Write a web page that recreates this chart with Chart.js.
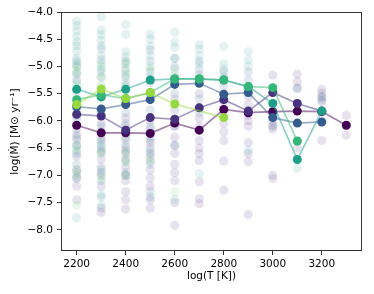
<!DOCTYPE html>
<html>
<head>
<meta charset="utf-8">
<script src="https://cdn.jsdelivr.net/npm/chart.js@4/dist/chart.umd.min.js"></script>
<style>
  html, body { margin: 0; padding: 0; background: #fff; }
  #wrap { width: 374px; height: 294px; }
</style>
</head>
<body>
<div id="wrap"><canvas id="mdot"></canvas></div>
<script>
// temperatures (K) on the x axis
const temps = [2200, 2300, 2400, 2500, 2600, 2700, 2800, 2900, 3000, 3100, 3200, 3300];
const xTicks = [2200, 2400, 2600, 2800, 3000, 3200];
const yTicks = [-4.0, -4.5, -5.0, -5.5, -6.0, -6.5, -7.0, -7.5, -8.0];

// median tracks, log(Mdot) per temperature (null = no point)
const trackDark   = [-6.08, -6.22, -6.22, -6.23, -6.04, -6.17, -5.79, -5.85, -5.83, -5.82, -5.83, -6.08];
const trackIndigo = [-5.88, -5.91, -6.17, -5.94, -5.97, -5.76, -5.61, -5.82, -5.48, -5.68, -5.82, null];
const trackBlue   = [-5.74, -5.78, -5.70, -5.61, -5.33, -5.31, -5.51, -5.48, -5.94, -6.04, -6.02, null];
const trackTeal   = [-5.42, -5.56, -5.42, -5.25, -5.23, -5.23, -5.25, -5.37, -5.68, -6.71, -5.82, null];
const trackGreen  = [-5.61, -5.52, -5.59, -5.48, -5.23, -5.23, -5.25, -5.37, -5.39, -6.37, null, null];
const trackLime   = [-5.70, -5.415, -5.59, -5.48, -5.69, null, -5.94, null, null, null, null, null];

// individual models behind the tracks, grouped by colour: [T, [log Mdot ...]]
const cloudTeal = [
  [2200, [-4.17, -4.25, -4.35, -4.45, -4.55, -4.62, -4.72, -4.85, -4.95, -5.1, -5.3, -5.45, -5.6, -6.45, -6.55, -7.78]],
  [2300, [-4.09, -4.33, -4.42, -4.52, -4.62, -4.8, -4.95, -5.1, -5.35, -6.4, -6.5, -6.9, -7.35, -7.55]],
  [2400, [-4.23, -4.41, -4.73, -4.82, -4.95, -5.15, -5.3, -6.5, -6.75, -7.0]],
  [2500, [-4.41, -4.5, -4.63, -4.8, -5.0, -5.2, -6.3, -6.55, -6.8]],
  [2600, [-4.37, -4.55, -4.65, -4.85, -5.05, -5.3, -7.44]],
  [2700, [-4.6, -4.68, -4.8, -4.95, -6.97]],
  [2800, [-4.63, -4.95, -5.05]],
  [2900, [-4.73, -4.88, -5.0, -6.54]],
  [3100, [-6.87]]
];
const cloudBlue = [
  [2200, [-4.9, -5.0, -5.15, -5.25, -5.8, -5.95, -6.25, -6.35, -6.6, -6.8, -6.95, -7.05]],
  [2300, [-4.68, -4.88, -5.05, -5.2, -5.55, -5.85, -6.1, -6.3, -6.45, -6.58, -6.95, -7.1, -7.4]],
  [2400, [-4.9, -5.05, -5.2, -5.35, -5.85, -6.05, -6.35, -6.6, -6.95]],
  [2500, [-4.7, -4.9, -5.1, -5.3, -5.8, -6.1, -6.35, -6.65, -7.3, -7.4]],
  [2600, [-4.85, -5.0, -5.2, -5.5, -6.1, -6.45]],
  [2700, [-4.9, -5.05, -5.15, -5.6, -5.85]],
  [2800, [-5.1, -5.2, -5.35]],
  [2900, [-5.1, -5.25, -5.45]],
  [3000, [-5.9, -6.1]],
  [3100, [-5.4]],
  [3200, [-5.56, -5.62]]
];
const cloudPurple = [
  [2200, [-5.9, -6.15, -6.3, -6.45, -6.65, -6.9, -7.05, -7.2, -7.45]],
  [2300, [-5.8, -6.05, -6.2, -6.35, -6.55, -6.7, -6.85, -7.0, -7.2, -7.6, -7.68]],
  [2400, [-5.95, -6.1, -6.3, -6.45, -6.55, -6.7, -6.85, -7.0, -7.1, -7.3, -7.45, -7.62]],
  [2500, [-6.0, -6.15, -6.4, -6.5, -6.6, -6.75, -6.9, -7.05, -7.2, -7.45, -7.6]],
  [2600, [-5.6, -5.8, -6.1, -6.3, -6.45, -6.6, -6.8, -6.95, -7.1, -7.5, -7.92]],
  [2700, [-5.5, -5.75, -5.95, -6.1, -6.36, -6.5, -6.6, -6.73, -7.12, -7.43, -7.52]],
  [2800, [-5.5, -5.65, -5.9, -6.05, -6.2, -6.36, -6.74, -7.27]],
  [2900, [-5.4, -5.55, -5.7, -5.9, -6.0, -6.1, -6.4, -6.6, -6.75, -7.72]],
  [3000, [-5.16, -6.0, -6.08, -6.15, -7.0, -7.06]],
  [3100, [-5.14, -5.28, -5.4, -6.38, -6.5]],
  [3200, [-5.42, -5.49, -5.56, -5.65, -6.36]],
  [3300, [-5.9, -6.26]]
];
const cloudGreen = [
  [2200, [-5.0, -5.1, -5.35, -5.7, -6.5, -6.9, -7.0, -7.55]],
  [2300, [-5.0, -5.2, -5.6, -6.6, -7.05]],
  [2400, [-4.95, -5.1, -5.4, -6.6, -6.75, -7.0]],
  [2500, [-5.05, -5.25, -5.5, -6.7]],
  [2600, [-5.15, -5.3, -7.3]],
  [2700, [-5.2]]
];

function cloudPoints(groups) {
  const pts = [];
  groups.forEach(([t, vals]) => vals.forEach(v => pts.push({ x: t, y: v })));
  return pts;
}
function trackPoints(vals) {
  return temps.map((t, i) => ({ x: t, y: vals[i] }));
}
function hexA(hex, a) {
  const n = parseInt(hex.slice(1), 16);
  return `rgba(${n >> 16},${(n >> 8) & 255},${n & 255},${a})`;
}

const clouds = [
  { pts: cloudPurple, col: '#482878', a: 0.13 },
  { pts: cloudBlue,   col: '#31688e', a: 0.14 },
  { pts: cloudTeal,   col: '#21918c', a: 0.12 },
  { pts: cloudGreen,  col: '#5ec962', a: 0.13 }
];
const tracks = [
  { vals: trackDark,   col: '#440154' },
  { vals: trackIndigo, col: '#46327e' },
  { vals: trackBlue,   col: '#365c8d' },
  { vals: trackTeal,   col: '#1f9e89' },
  { vals: trackGreen,  col: '#35b779' },
  { vals: trackLime,   col: '#95d840' }
];

const datasets = [];
clouds.forEach((c, i) => datasets.push({
  type: 'scatter', data: cloudPoints(c.pts), order: 100 - i,
  pointRadius: 4.6, pointBorderWidth: 0, backgroundColor: hexA(c.col, c.a)
}));
tracks.forEach((tr, i) => datasets.push({
  type: 'line', data: trackPoints(tr.vals), order: 50 - i, spanGaps: true,
  borderColor: hexA(tr.col, 0.5), borderWidth: 1.7, tension: 0,
  pointRadius: 4.5, pointBorderWidth: 0, pointBackgroundColor: tr.col
}));

const frame = {
  id: 'frame',
  afterDraw(chart) {
    const { ctx, chartArea: a } = chart;
    ctx.save();
    ctx.strokeStyle = '#333';
    ctx.lineWidth = 1;
    ctx.strokeRect(Math.round(a.left) + 0.5, Math.round(a.top) + 0.5,
      Math.round(a.right - a.left) - 1, Math.round(a.bottom - a.top) - 1);
    ctx.restore();
  }
};

const font = { family: 'DejaVu Sans', size: 10.5 };
new Chart(document.getElementById('mdot'), {
  data: { datasets },
  options: {
    responsive: true, maintainAspectRatio: false, animation: false,
    layout: { padding: { top: 12, right: 12, left: 0, bottom: 0 } },
    plugins: { legend: { display: false }, tooltip: { enabled: false } },
    scales: {
      x: {
        type: 'linear', min: 2136, max: 3364,
        afterBuildTicks: s => { s.ticks = xTicks.map(v => ({ value: v })); },
        afterFit: s => { s.height = 43; },
        ticks: { font, color: '#000', padding: 3, maxRotation: 0, callback: v => String(v) },
        grid: { drawOnChartArea: false, tickLength: 4, color: '#333' },
        border: { display: false },
        title: { display: true, text: 'log(T [K])', font, color: '#000', padding: { top: 0, bottom: 11 } }
      },
      y: {
        type: 'linear', min: -8.39, max: -4.0,
        afterBuildTicks: s => { s.ticks = yTicks.map(v => ({ value: v })); },
        afterFit: s => { s.width = 61; },
        ticks: { font, color: '#000', padding: 4, callback: v => v.toFixed(1).replace('-', '\u2212') },
        grid: { drawOnChartArea: false, tickLength: 4, color: '#333' },
        border: { display: false },
        title: { display: true, text: 'log(\u1E40) [M\u2299 yr\u207B\u00B9]', font, color: '#000', padding: { top: 9, bottom: 0 } }
      }
    }
  },
  plugins: [frame]
});
</script>
</body>
</html>
